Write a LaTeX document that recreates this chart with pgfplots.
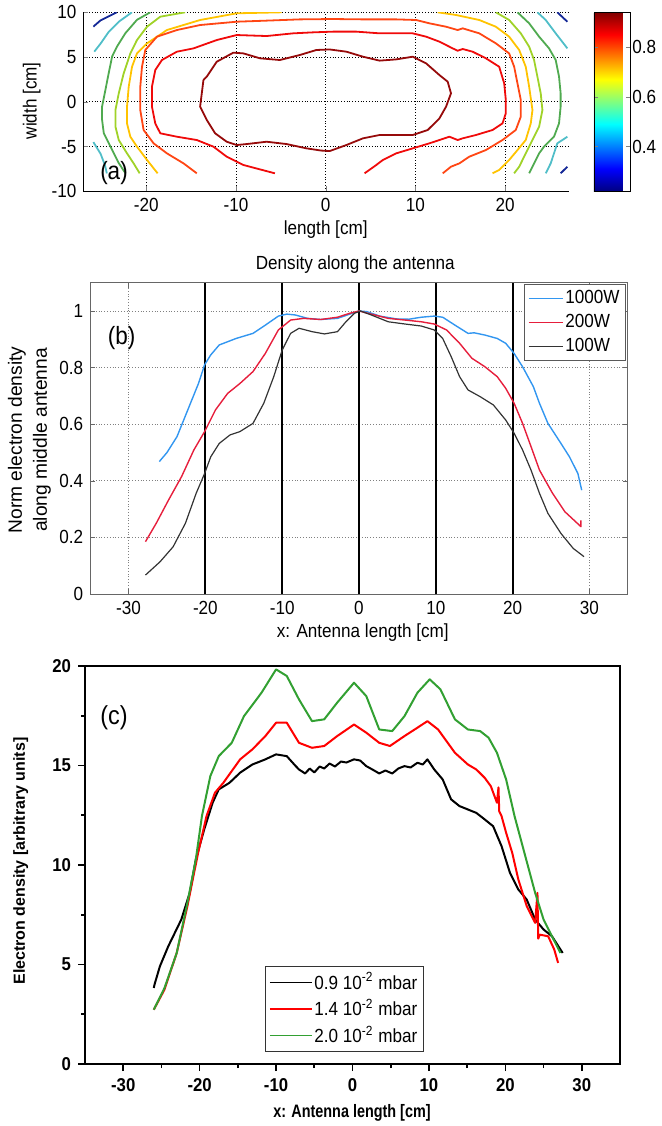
\documentclass[border=0pt]{standalone}
\usepackage{fontspec}
\setmainfont{Liberation Sans}[FakeStretch=0.9]
\newfontfamily\ufont{Liberation Sans}
\newfontfamily\cfont{Liberation Sans}[FakeStretch=0.8]
\usepackage{pgfplots}
\pgfplotsset{compat=1.18}
\definecolor{cdred}{RGB}{150,10,10}
\definecolor{cred}{RGB}{240,10,10}
\definecolor{corange}{RGB}{255,70,20}
\definecolor{cyellow}{RGB}{255,195,0}
\definecolor{cyg}{RGB}{160,210,40}
\definecolor{cgreen}{RGB}{80,170,80}
\definecolor{ccyan}{RGB}{80,190,200}
\definecolor{cblue}{RGB}{20,40,150}
\definecolor{bblue}{RGB}{50,150,240}
\definecolor{bred}{RGB}{230,30,60}
\definecolor{cgr}{RGB}{50,160,50}
\begin{document}
\begin{tikzpicture}
\useasboundingbox (0pt,0pt) rectangle (330.5pt,-563pt);
% ---------------- panel (a)
\begin{axis}[
  at={(41.75pt,-6.15pt)}, anchor=north west,
  scale only axis, width=242.25pt, height=89.5pt,
  xmin=-27, xmax=27, ymin=-10, ymax=10,
  axis x line*=bottom, axis y line*=left,
  xtick={-20,-10,0,10,20}, ytick={-10,-5,0,5,10},
  grid=major, major grid style={black, densely dotted, line width=0.4pt},
  tick align=inside, major tick length=2.5pt,
  /pgf/number format/assume math mode=true,
  tick label style={font=\fontsize{9.5}{11}\selectfont},
  label style={font=\fontsize{9.5}{11}\selectfont},
  xlabel={length [cm]}, ylabel={width [cm]},
  xlabel style={at={(axis description cs:0.5,-0.216)}, anchor=center},
  ylabel style={at={(axis description cs:-0.107,0.506)}, anchor=center},
  colormap/jet, point meta min=0.22, point meta max=0.94,
  colorbar,
  colorbar style={at={(parent axis.north east)}, anchor=north west,
    xshift=4.46pt, width=18pt, height=89.5pt, scale only axis,
    ytick={0.4,0.6,0.8}, tick align=inside, major tick length=2pt,
    /pgf/number format/assume math mode=true,
    /pgf/number format/fixed, /pgf/number format/precision=1,
    yticklabel style={font=\fontsize{9.5}{11}\selectfont, inner xsep=1pt}},
  every axis plot/.append style={line width=0.9pt, line join=round},
]
\addplot[cblue] coordinates {(-25.9,8.4) (-25.1,9.1) (-23.3,10.0)};
\addplot[cblue] coordinates {(25.81,10.0) (26.93,8.95)};
\addplot[cblue] coordinates {(26.18,-7.99) (26.93,-7.25)};
\addplot[ccyan] coordinates {(-25.8,5.6) (-25.1,6.5) (-24.2,7.8) (-23.0,9.0) (-21.6,10.0)};
\addplot[ccyan] coordinates {(-25.9,-4.5) (-25.1,-5.8) (-24.6,-7.1) (-24.4,-8.0)};
\addplot[ccyan] coordinates {(23.59,10) (24.52,9.14) (25.63,7.65) (26.93,5.97)};
\addplot[ccyan] coordinates {(24.52,-7.99) (25.07,-6.88) (25.81,-4.64) (26.93,-3.90)};
\addplot[cgreen] coordinates {(-19.56,10.0) (-21.04,9.16) (-22.33,7.67) (-23.26,6.18) (-23.81,5.06) (-24.19,3.20) (-24.56,1.32) (-24.93,-0.53) (-24.93,-2.01) (-24.74,-3.50) (-24.19,-4.61) (-23.63,-5.73) (-23.07,-6.85) (-22.33,-7.97)};
\addplot[cgreen] coordinates {(21.37,10.0) (22.67,8.77) (23.78,7.28) (24.89,5.97) (25.63,4.67) (26.0,2.81) (26.18,0.95) (26.18,-0.54) (26.0,-2.41) (25.44,-3.90) (24.33,-5.01) (23.78,-5.76) (23.22,-6.88) (22.67,-7.99)};
\addplot[cyg] coordinates {(-15.67,10) (-18.44,9.51) (-19.92,8.39) (-21.04,6.90) (-21.78,5.41) (-22.52,3.18) (-23.07,0.95) (-23.44,-0.92) (-23.44,-2.78) (-23.07,-4.27) (-22.15,-5.76) (-21.41,-6.88) (-20.74,-7.99)};
\addplot[cyg] coordinates {(18.96,10) (20.44,9.14) (21.74,7.65) (22.67,6.16) (23.22,4.67) (23.59,2.81) (23.96,0.95) (24.15,-0.92) (23.78,-2.78) (23.22,-3.90) (22.67,-5.01) (22.11,-6.13) (21.56,-7.25) (21.0,-7.99)};
\addplot[cyellow] coordinates {(-4.93,10) (-9.92,9.89) (-14.0,9.14) (-17.70,8.02) (-19.92,6.53) (-21.04,5.41) (-21.59,3.92) (-21.96,1.69) (-22.15,-0.54) (-22.15,-2.41) (-21.78,-3.90) (-21.04,-5.01) (-19.92,-6.50) (-18.74,-7.99)};
\addplot[cyellow] coordinates {(12.48,10) (14.52,9.70) (17.11,9.14) (18.96,8.39) (20.44,7.28) (21.56,5.79) (22.29,3.92) (22.67,1.69) (23.04,-0.92) (22.85,-2.41) (22.29,-4.27) (21.37,-5.39) (20.44,-6.50) (19.33,-7.62) (18.59,-7.99)};
\addplot[corange] coordinates {(-14.37,-7.99) (-15.85,-6.88) (-17.70,-5.76) (-19.19,-4.64) (-20.30,-3.15) (-20.67,-0.92) (-20.67,1.69) (-20.48,3.92) (-20.11,5.79) (-18.81,7.28) (-16.59,8.02) (-14.0,8.58) (-9.92,8.95) (-6.59,9.07) (-2.89,9.21) (0.82,9.25) (4.15,9.21) (7.85,9.21) (10.07,9.14) (11.55,8.77) (13.41,8.39) (14.70,8.02) (15.26,8.21) (17.11,7.65) (18.96,6.53) (20.44,5.41) (21.0,3.92) (21.37,2.06) (21.74,0.20) (21.74,-1.66) (21.18,-3.15) (19.70,-4.27) (17.85,-5.39) (16.0,-6.13) (14.89,-6.88) (13.96,-7.25) (13.04,-7.99)};
\addplot[cred] coordinates {(-5.67,-7.99) (-9.18,-7.06) (-11.04,-6.13) (-12.52,-5.01) (-14.37,-4.27) (-16.59,-3.90) (-18.44,-3.52) (-19.0,-2.41) (-19.37,-0.54) (-19.37,1.69) (-19.0,3.55) (-18.26,4.67) (-16.59,5.60) (-14.74,5.97) (-12.15,6.90) (-9.92,7.46) (-6.59,7.35) (-3.63,7.65) (-1.41,7.76) (0.82,7.84) (3.41,7.84) (6.0,7.65) (9.70,7.65) (11.18,7.28) (12.67,6.72) (14.15,5.97) (14.70,5.71) (15.26,5.90) (16.37,5.60) (17.85,4.86) (19.33,3.92) (19.89,2.06) (20.07,0.20) (20.07,-1.29) (19.70,-2.41) (18.59,-3.15) (16.74,-3.71) (15.26,-4.08) (14.70,-4.27) (13.78,-3.90) (11.55,-4.64) (9.70,-5.20) (7.85,-5.76) (6.37,-6.50) (5.63,-7.06) (4.33,-7.99)};
\addplot[cdred] coordinates {(-13.63,2.44) (-13.26,2.81) (-12.15,4.48) (-10.30,5.49) (-9.18,5.41) (-7.33,4.86) (-5.11,4.67) (-2.89,5.23) (-1.04,5.79) (0.44,5.85) (2.30,5.60) (4.15,5.04) (6.0,4.60) (7.85,4.74) (9.70,5.04) (11.18,4.30) (12.67,2.99) (13.59,2.25) (13.96,0.95) (13.41,-0.54) (12.67,-1.85) (11.37,-3.15) (9.70,-3.71) (7.85,-3.71) (6.0,-3.71) (4.15,-4.08) (2.30,-4.83) (0.44,-5.50) (-0.5,-5.45) (-2.15,-5.20) (-4.37,-4.72) (-6.59,-4.46) (-8.81,-4.72) (-9.92,-4.83) (-11.04,-4.46) (-12.33,-3.52) (-13.26,-2.03) (-14.0,-0.54) (-13.63,2.44)};
\node[font=\fontsize{12.5}{14}\selectfont] at (axis cs:-23.6,-8.0) {(a)};
\end{axis}
% ---------------- panel (b)
\begin{axis}[
  at={(45.1pt,-141.35pt)}, anchor=north west,
  scale only axis, width=268.8pt, height=155.65pt,
  xmin=-35, xmax=35, ymin=0, ymax=1.1,
  xtick={-30,-20,-10,0,10,20,30}, ytick={0,0.2,0.4,0.6,0.8,1},
  grid=major, major grid style={gray, densely dotted, line width=0.4pt},
  axis line style={gray!80!black}, tick style={gray!80!black},
  tick align=inside, major tick length=2.5pt,
  /pgf/number format/assume math mode=true,
  tick label style={font=\fontsize{9.5}{11}\selectfont},
  label style={font=\fontsize{9.5}{11}\selectfont},
  title={Density along the antenna},
  title style={at={(axis description cs:0.493,1.057)}, anchor=center, yshift=-6pt, font=\fontsize{9.5}{11}\selectfont},
  xlabel={x: Antenna length [cm]},
  ylabel={Norm electron density\\along middle antenna},
  xlabel style={at={(axis description cs:0.507,-0.125)}, anchor=center},
  ylabel style={at={(axis description cs:-0.113,0.495)}, anchor=center, align=center, font=\ufont\fontsize{9.6}{12.5}\selectfont},
  legend style={at={(0.9967,0.996)}, anchor=north east, draw=gray!70!black,
    font=\fontsize{9.5}{11}\selectfont, nodes={inner sep=1pt}, row sep=1.8pt, inner sep=2pt},
  legend cell align=left,
  legend image code/.code={\draw[#1] (0pt,0pt) -- (17pt,0pt);},
  every axis plot/.append style={line width=0.7pt, line join=round},
]
\addplot[black, line width=1pt, forget plot] coordinates {(-20,0) (-20,1.1)};
\addplot[black, line width=1pt, forget plot] coordinates {(-10,0) (-10,1.1)};
\addplot[black, line width=1pt, forget plot] coordinates {(0,0) (0,1.1)};
\addplot[black, line width=1pt, forget plot] coordinates {(10,0) (10,1.1)};
\addplot[black, line width=1pt, forget plot] coordinates {(20,0) (20,1.1)};
\addplot[bblue] coordinates {(-26,0.468) (-25,0.50) (-23.7,0.556) (-22.3,0.65) (-20.9,0.744) (-20.1,0.81) (-19.3,0.845) (-18.2,0.88) (-16,0.903) (-13.8,0.921) (-12.2,0.95) (-10.5,0.982) (-9.4,0.989) (-8.3,0.986) (-6.7,0.974) (-5,0.97) (-2.8,0.974) (-1.2,0.989) (0,1.0) (1.0,0.998) (2.7,0.982) (4.9,0.972) (6.5,0.971) (8.1,0.978) (9.8,0.982) (10.9,0.978) (12.5,0.95) (14.2,0.921) (15,0.923) (16.4,0.915) (18,0.903) (19.1,0.886) (20.2,0.85) (21.3,0.803) (22.7,0.733) (23.5,0.674) (24.6,0.603) (26.3,0.532) (27.4,0.485) (28.5,0.426) (29,0.367)};
\addlegendentry{1000W}
\addplot[bred] coordinates {(-27.8,0.185) (-26.4,0.25) (-24.8,0.332) (-23.1,0.415) (-21.5,0.509) (-20.1,0.574) (-18.7,0.65) (-17.1,0.709) (-15.5,0.744) (-13.8,0.786) (-12.2,0.85) (-10.5,0.933) (-8.9,0.968) (-7.2,0.974) (-5,0.97) (-2.8,0.978) (-1.2,0.992) (0,1.0) (1.6,0.989) (3.8,0.974) (6,0.968) (8.1,0.962) (9.8,0.954) (11.4,0.933) (13.1,0.886) (14.7,0.833) (16.4,0.803) (18,0.768) (19.1,0.727) (20.2,0.674) (21.3,0.603) (22.4,0.521) (23.5,0.438) (25.2,0.356) (26.8,0.291) (28.9,0.238) (28.9,0.26)};
\addlegendentry{200W}
\addplot[black!80, line width=0.6pt] coordinates {(-27.8,0.067) (-25.9,0.114) (-24.2,0.167) (-22.6,0.25) (-21.2,0.356) (-20.1,0.426) (-19.3,0.485) (-18.2,0.532) (-16.8,0.562) (-15.5,0.574) (-13.8,0.603) (-12.4,0.674) (-11.1,0.768) (-10,0.862) (-8.9,0.921) (-7.8,0.939) (-6.1,0.927) (-4.5,0.919) (-2.8,0.927) (-1.7,0.962) (-0.6,0.992) (0.2,1.0) (1.6,0.986) (3.8,0.962) (6,0.954) (8.1,0.947) (9.8,0.933) (10.9,0.903) (12,0.839) (13.1,0.768) (14.2,0.721) (15.8,0.697) (17.5,0.668) (19.1,0.615) (20.2,0.568) (21.3,0.509) (22.4,0.438) (23.5,0.356) (24.6,0.285) (26.3,0.214) (27.9,0.161) (29.3,0.132)};
\addlegendentry{100W}
\node[font=\fontsize{12.5}{14}\selectfont] at (axis cs:-30.9,0.905) {(b)};
\end{axis}
% ---------------- panel (c)
\begin{axis}[
  at={(42.5pt,-333pt)}, anchor=north west,
  scale only axis, width=267.5pt, height=199pt,
  xmin=-35, xmax=35, ymin=0, ymax=20,
  xtick={-30,-20,-10,0,10,20,30}, ytick={0,5,10,15,20},
  minor x tick num=1, minor y tick num=1,
  xtick pos=bottom, ytick pos=left,
  tick align=outside, major tick length=3.5pt, minor tick length=2pt,
  axis line style={line width=0.8pt}, tick style={line width=0.8pt, black},
  /pgf/number format/assume math mode=true,
  tick label style={font=\bfseries\fontsize{9.3}{11}\selectfont},
  xlabel={x: Antenna length [cm]},
  ylabel={Electron density [arbitrary units]},
  xlabel style={at={(axis description cs:0.499,-0.123)}, anchor=center, font=\cfont\bfseries\fontsize{9}{11}\selectfont},
  ylabel style={at={(axis description cs:-0.12,0.51)}, anchor=center, font=\ufont\bfseries\fontsize{8}{10}\selectfont},
  legend style={at={(0.336,0.03)}, anchor=south west, draw=black!80,
    font=\fontsize{9.5}{11}\selectfont, nodes={inner sep=1pt}, row sep=1.4pt, inner sep=2pt},
  legend cell align=left,
  legend image code/.code={\draw[#1, line width=0.6pt] (0pt,0pt) -- (21pt,0pt);},
  every axis plot/.append style={line width=1pt, line join=round},
]
\addplot[black] coordinates {(-26,3.82) (-25.9,4.0) (-25.2,4.91) (-24.1,5.92) (-22.4,7.26) (-21.3,8.6) (-20.5,10.28) (-19.4,11.79) (-18.3,13.13) (-17.5,13.8) (-16.1,14.13) (-14.7,14.64) (-13.1,15.05) (-11.4,15.31) (-10,15.56) (-8.6,15.47) (-7.5,15.0) (-7,14.8) (-6.2,14.6) (-5.6,14.85) (-5,14.65) (-4.3,14.95) (-3.7,14.85) (-3,15.1) (-2.3,14.95) (-1.5,15.2) (-0.8,15.15) (0.2,15.31) (1,15.25) (1.8,14.97) (2.6,14.8) (3.5,14.6) (4.3,14.75) (5.2,14.6) (6,14.85) (6.8,14.97) (7.6,14.9) (8.5,15.14) (9.2,15.05) (9.8,15.31) (10.7,14.8) (11.8,14.3) (12.9,13.3) (14,12.96) (15.1,12.79) (16.2,12.62) (17.3,12.29) (18.4,11.95) (19.5,10.95) (20.6,9.61) (21.7,8.77) (22.8,8.26) (23.9,7.26) (25,6.76) (26.1,6.42) (27.5,5.58)};
\addlegendentry{0.9 10\textsuperscript{-2} mbar}
\addplot[red] coordinates {(-26,2.73) (-24.6,3.74) (-23,5.58) (-21.6,7.93) (-20.2,10.61) (-19.1,12.46) (-18,13.63) (-16.9,14.13) (-15.8,14.72) (-14.7,15.31) (-13.1,15.81) (-11.4,16.48) (-10,17.15) (-8.6,17.15) (-7,16.14) (-5.3,15.89) (-3.7,15.98) (-2,16.48) (0.2,17.06) (1.8,16.65) (3.5,16.14) (4.9,15.98) (6.8,16.48) (8.5,16.9) (9.8,17.23) (11.2,16.81) (13.4,15.64) (15.1,15.05) (16.2,14.8) (17.3,14.38) (18.1,13.96) (18.9,13.13) (19.1,13.9) (19.2,12.7) (19.5,12.46) (20.1,11.62) (20.9,10.61) (21.7,9.27) (22.8,7.93) (23.9,7.09) (24.2,8.6) (24.3,6.3) (24.5,6.5) (25.6,6.42) (26.4,5.75) (26.9,5.08)};
\addlegendentry{1.4 10\textsuperscript{-2} mbar}
\addplot[cgr] coordinates {(-26,2.73) (-24.6,3.82) (-23,5.58) (-21.6,8.1) (-20.5,10.28) (-19.7,12.46) (-18.6,14.47) (-17.5,15.47) (-15.8,16.14) (-14.2,17.48) (-11.9,18.66) (-10,19.83) (-8.6,19.5) (-7,18.32) (-5.3,17.23) (-3.7,17.32) (-2,18.16) (0.2,19.16) (1.8,18.49) (3.5,16.81) (5.2,16.73) (6.8,17.48) (8.5,18.66) (10.1,19.33) (11.5,18.83) (13.4,17.32) (15.1,16.81) (16.7,16.73) (17.8,16.4) (18.9,15.64) (20.1,14.3) (21.2,12.46) (22.5,10.6) (23.9,8.6) (25,7.26) (26.1,6.42) (27.2,5.58)};
\addlegendentry{2.0 10\textsuperscript{-2} mbar}
\node[font=\fontsize{13}{15}\selectfont] at (axis cs:-31.2,17.4) {(c)};
\end{axis}
\end{tikzpicture}
\end{document}
